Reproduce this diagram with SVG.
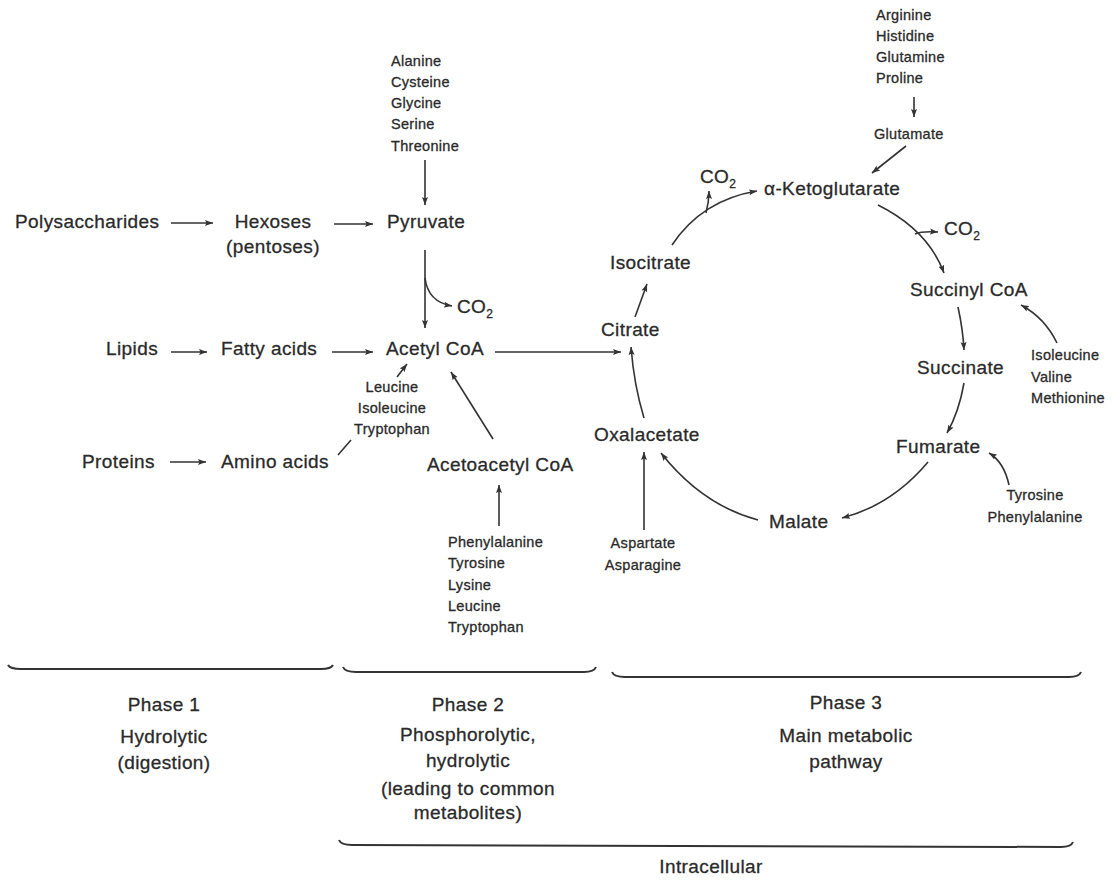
<svg xmlns="http://www.w3.org/2000/svg" width="1118" height="893" viewBox="0 0 1118 893">
<style>
text{font-family:"Liberation Sans",Arial,sans-serif;fill:#2a2a2a;stroke:#2a2a2a;stroke-width:0.3}
.m{font-size:19px;letter-spacing:0.4px}
.s{font-size:14.5px;letter-spacing:0.3px}
.c{text-anchor:middle}
.ln{fill:none;stroke:#333;stroke-width:1.6}
.ar{fill:none;stroke:#333;stroke-width:1.6;marker-end:url(#ah)}
.br{fill:none;stroke:#333;stroke-width:2}
</style>
<defs>
<marker id="ah" markerUnits="userSpaceOnUse" markerWidth="9" markerHeight="7" refX="8" refY="3.5" orient="auto">
<path d="M0,0.5 L8,3.5 L0,6.5 L1.5,3.5 z" fill="#333"/>
</marker>
</defs>
<rect width="1118" height="893" fill="#fff"/>

<g id="connectors">
<path class="ar" d="M171 223 L213 223"/>
<path class="ar" d="M334 224 L373 224"/>
<path class="ar" d="M425 160 L425 205"/>
<path class="ar" d="M425 250 L425 328"/>
<path class="ar" d="M425 278 Q428 302 452 306"/>
<path class="ar" d="M171 352 L207 352"/>
<path class="ar" d="M332 352 L373 352"/>
<path class="ar" d="M495 352 L621 352"/>
<path class="ar" d="M397 377 L407 364"/>
<path class="ln" d="M338 455 L351 440"/>
<path class="ar" d="M493 439 L451 372"/>
<path class="ar" d="M499 526 L499 485"/>
<path class="ar" d="M170 462 L206 462"/>
<path class="ar" d="M644 418 Q634 385 631 347"/>
<path class="ar" d="M644 530 L644 452"/>
<path class="ar" d="M635 317 L647 284"/>
<path class="ar" d="M672 245 Q702 200 757 191"/>
<path class="ar" d="M706 213 Q709 202 709 191"/>
<path class="ar" d="M878 205 Q928 230 944 273"/>
<path class="ar" d="M915 234 Q922 231 938 232"/>
<path class="ar" d="M906 146 L872 173"/>
<path class="ar" d="M914 97 L914 117"/>
<path class="ar" d="M958 307 Q963 330 964 350"/>
<path class="ar" d="M1057 343 Q1045 318 1021 305"/>
<path class="ar" d="M964 383 Q959 412 947 433"/>
<path class="ar" d="M1009 485 Q1004 462 989 453"/>
<path class="ar" d="M928 462 Q892 505 842 518"/>
<path class="ar" d="M758 520 Q702 505 661 453"/>
</g>

<g id="n-polysaccharides"><text class="m" x="15" y="228">Polysaccharides</text></g>
<g id="n-hexoses"><text class="m c" x="273" y="228">Hexoses</text><text class="m c" x="273" y="253">(pentoses)</text></g>
<g id="n-pyruvate"><text class="m" x="387" y="228">Pyruvate</text></g>
<g id="n-aa-pyruvate">
<text class="s" x="391" y="66">Alanine</text>
<text class="s" x="391" y="87">Cysteine</text>
<text class="s" x="391" y="108">Glycine</text>
<text class="s" x="391" y="129">Serine</text>
<text class="s" x="391" y="151">Threonine</text>
</g>
<g id="n-co2-a"><text class="m" x="457" y="313">CO<tspan font-size="12" dy="5">2</tspan></text></g>
<g id="n-lipids"><text class="m" x="106" y="355">Lipids</text></g>
<g id="n-fatty"><text class="m" x="221" y="355">Fatty acids</text></g>
<g id="n-acetylcoa"><text class="m" x="386" y="355">Acetyl CoA</text></g>
<g id="n-aa-acetyl">
<text class="s c" x="392" y="392">Leucine</text>
<text class="s c" x="392" y="413">Isoleucine</text>
<text class="s c" x="392" y="434">Tryptophan</text>
</g>
<g id="n-proteins"><text class="m" x="82" y="468">Proteins</text></g>
<g id="n-amino"><text class="m" x="221" y="468">Amino acids</text></g>
<g id="n-acetoacetyl"><text class="m" x="427" y="471">Acetoacetyl CoA</text></g>
<g id="n-aa-acetoacetyl">
<text class="s" x="448" y="547">Phenylalanine</text>
<text class="s" x="448" y="568">Tyrosine</text>
<text class="s" x="448" y="590">Lysine</text>
<text class="s" x="448" y="611">Leucine</text>
<text class="s" x="448" y="632">Tryptophan</text>
</g>
<g id="n-citrate"><text class="m" x="601" y="336">Citrate</text></g>
<g id="n-isocitrate"><text class="m" x="610" y="269">Isocitrate</text></g>
<g id="n-co2-b"><text class="m" x="700" y="183">CO<tspan font-size="12" dy="5">2</tspan></text></g>
<g id="n-aketo"><text class="m" x="764" y="195">α-Ketoglutarate</text></g>
<g id="n-aa-glutamate">
<text class="s" x="876" y="20">Arginine</text>
<text class="s" x="876" y="41">Histidine</text>
<text class="s" x="876" y="62">Glutamine</text>
<text class="s" x="876" y="83">Proline</text>
</g>
<g id="n-glutamate"><text class="s" x="874" y="139">Glutamate</text></g>
<g id="n-co2-c"><text class="m" x="944" y="235">CO<tspan font-size="12" dy="5">2</tspan></text></g>
<g id="n-succinylcoa"><text class="m" x="910" y="296">Succinyl CoA</text></g>
<g id="n-aa-succinyl">
<text class="s" x="1031" y="360">Isoleucine</text>
<text class="s" x="1031" y="382">Valine</text>
<text class="s" x="1031" y="403">Methionine</text>
</g>
<g id="n-succinate"><text class="m" x="917" y="374">Succinate</text></g>
<g id="n-fumarate"><text class="m" x="896" y="453">Fumarate</text></g>
<g id="n-aa-fumarate">
<text class="s c" x="1035" y="500">Tyrosine</text>
<text class="s c" x="1035" y="522">Phenylalanine</text>
</g>
<g id="n-malate"><text class="m" x="769" y="528">Malate</text></g>
<g id="n-oxalacetate"><text class="m" x="594" y="441">Oxalacetate</text></g>
<g id="n-aa-oxalacetate">
<text class="s c" x="643" y="548">Aspartate</text>
<text class="s c" x="643" y="570">Asparagine</text>
</g>

<g id="phase1">
<path class="br" d="M8 665 Q10 669 21 669 L321 669 Q331 669 333 665"/>
<text class="m c" x="164" y="711">Phase 1</text>
<text class="m c" x="164" y="743">Hydrolytic</text>
<text class="m c" x="164" y="769">(digestion)</text>
</g>
<g id="phase2">
<path class="br" d="M343 667 Q345 672 356 672 L584 672 Q594 672 596 667"/>
<text class="m c" x="468" y="711">Phase 2</text>
<text class="m c" x="468" y="741">Phosphorolytic,</text>
<text class="m c" x="468" y="767">hydrolytic</text>
<text class="m c" x="468" y="795">(leading to common</text>
<text class="m c" x="468" y="819">metabolites)</text>
</g>
<g id="phase3">
<path class="br" d="M612 672 Q614 677 625 677 L1069 677 Q1079 677 1081 672"/>
<text class="m c" x="846" y="709">Phase 3</text>
<text class="m c" x="846" y="742">Main metabolic</text>
<text class="m c" x="846" y="768">pathway</text>
</g>
<g id="intracellular">
<path class="br" d="M339 840 Q341 845 352 845 L1061 847 Q1071 847 1073 842"/>
<text class="m c" x="711" y="873">Intracellular</text>
</g>
</svg>
